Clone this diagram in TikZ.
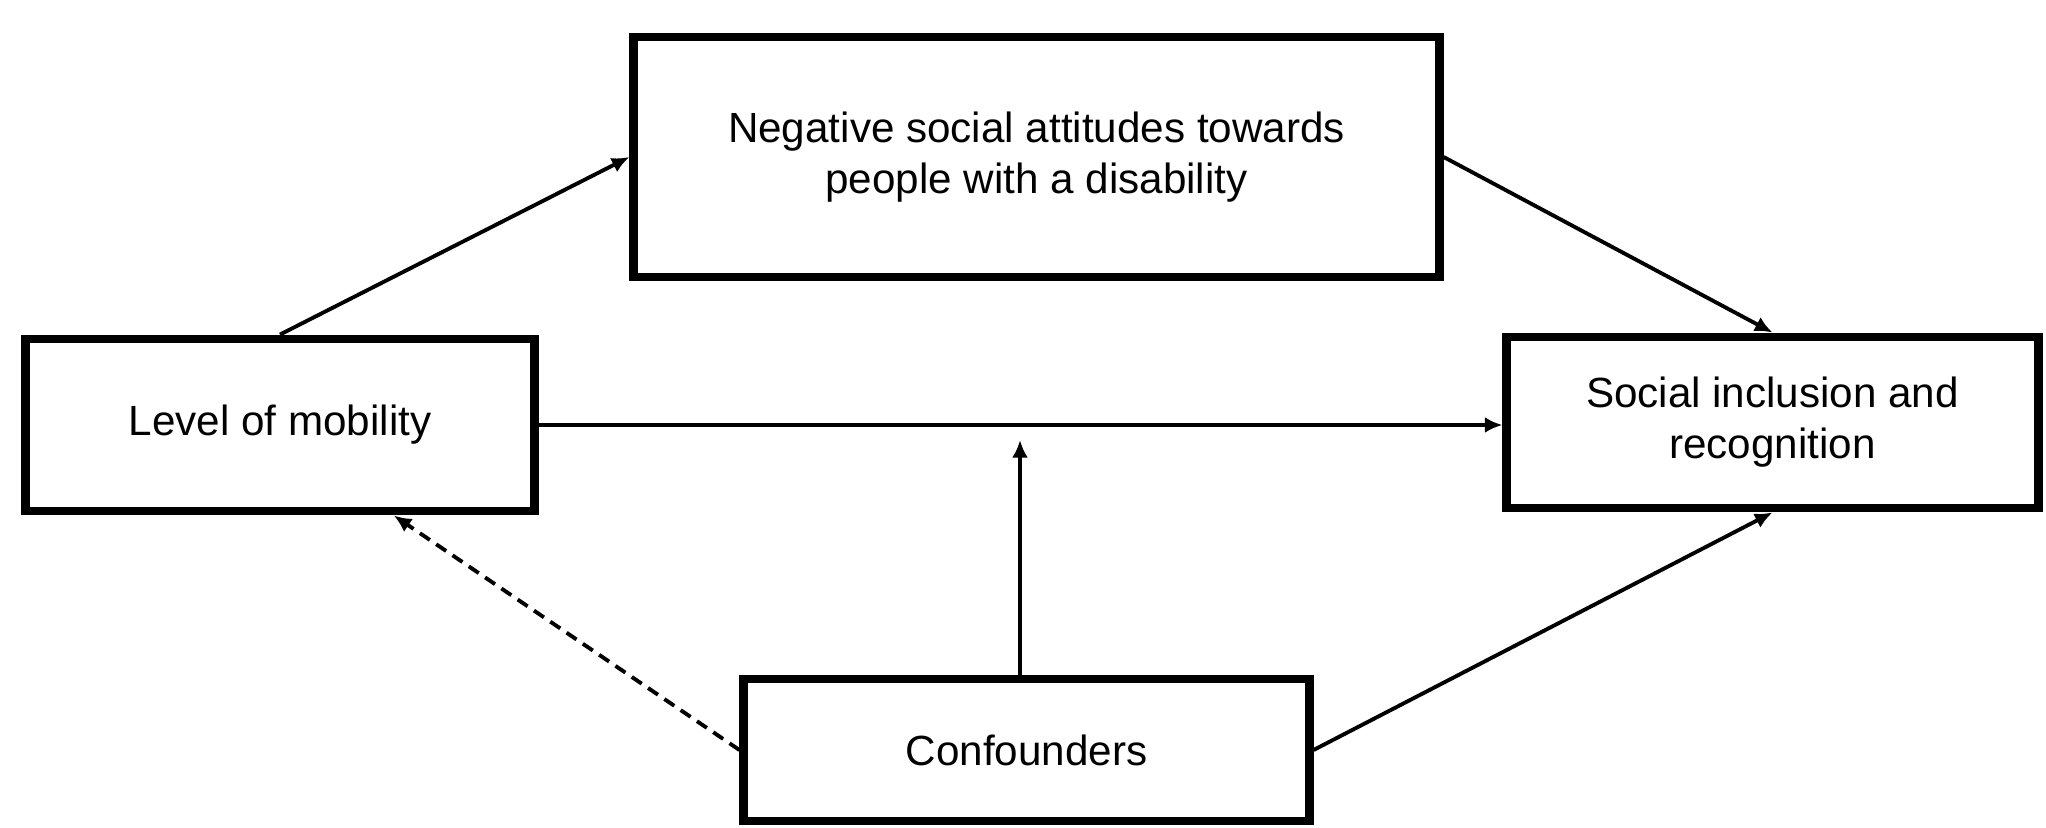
\documentclass[tikz,border=0pt]{standalone}
\usepackage{fontspec}
\setmainfont{Liberation Sans}
\usetikzlibrary{arrows.meta,calc}
\begin{document}
\begin{tikzpicture}[x=0.01cm,y=-0.01cm,
  box/.style={draw=black,line width=2.5pt,fill=white,inner sep=0pt,align=center,
    font=\fontsize{12}{14.5}\selectfont},
  conn/.style={line width=1.1pt,-{Latex[length=5pt,width=4.5pt]}},
  dconn/.style={conn,dash pattern=on 3.4pt off 2.2pt}]
\useasboundingbox (0,0) rectangle (2046,828);
\node[box,minimum width=8.05cm,minimum height=2.40cm] (neg) at (1036.5,157) {Negative social attitudes towards\\people with a disability};
\node[box,minimum width=5.08cm,minimum height=1.72cm] (level) at (280,425) {Level of mobility};
\node[box,minimum width=5.31cm,minimum height=1.71cm] (social) at (1772.5,422.5) {Social inclusion and\\recognition};
\node[box,minimum width=5.65cm,minimum height=1.42cm] (conf) at (1026.5,750) {Confounders};
\coordinate (mid) at (1020,440);
\draw[conn] (level.north) -- (neg.west);
\draw[conn] (neg.east) -- (social.north);
\draw[conn] (level.east) -- (level.east -| social.west);
\draw[conn] (conf.north -| mid) -- (mid);
\draw[dconn] (conf.west) -- ($(level.south)!0.44!(level.south east)$);
\draw[conn] (conf.east) -- (social.south);
\end{tikzpicture}
\end{document}
